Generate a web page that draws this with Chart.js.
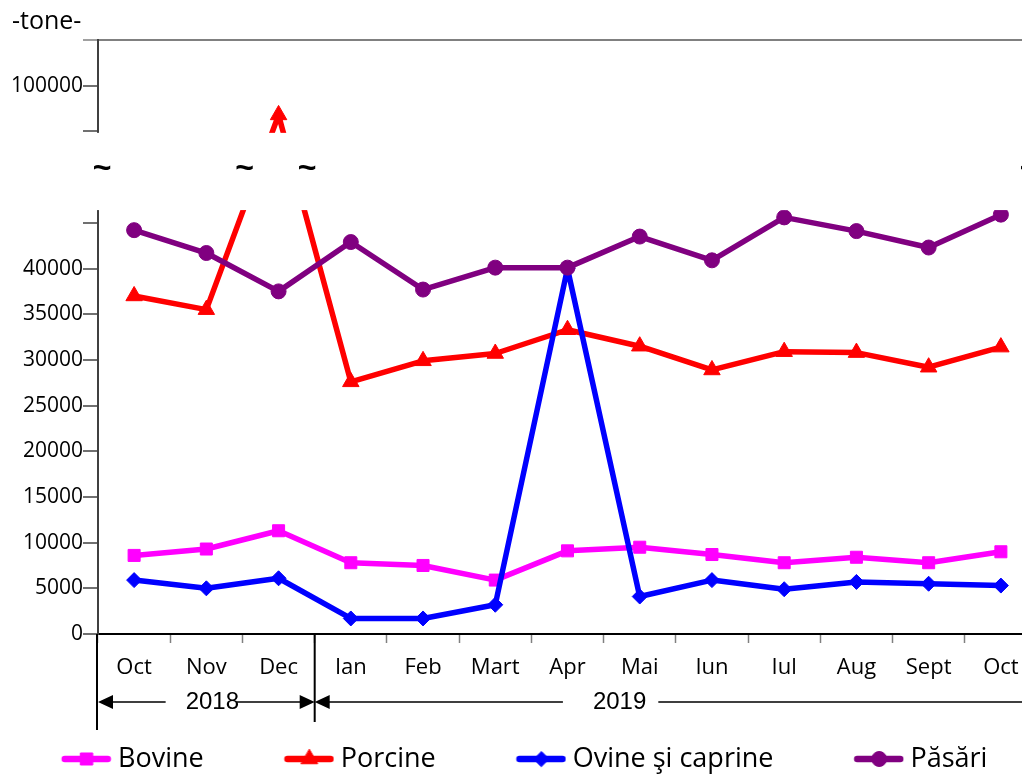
<!DOCTYPE html>
<html><head><meta charset="utf-8">
<script src="https://cdn.jsdelivr.net/npm/chart.js@4.4.1/dist/chart.umd.min.js"></script>
<style>
html,body{margin:0;padding:0;overflow:hidden;background:#fff;width:1022px;height:774px}
#wrap{position:absolute;left:0;top:0;width:1060px;height:774px}
</style>
</head><body>
<div id="wrap"><canvas id="c" width="1060" height="774"></canvas></div>
<script>
// ---- data ----
const MONTHS = ['Oct','Nov','Dec','Ian','Feb','Mart','Apr','Mai','Iun','Iul','Aug','Sept','Oct'];
const YEARS = ['2018','2019'];
const SERIES_NAMES = ['Bovine','Porcine','Ovine şi caprine','Păsări'];
const BOVINE  = [8600, 9300, 11300, 7800, 7500, 5900, 9100, 9500, 8700, 7800, 8400, 7800, 9000];
const PORCINE = [37000, 35500, 96800, 27600, 29900, 30700, 33300, 31500, 28900, 30900, 30800, 29200, 31400];
const OVINE   = [5900, 5000, 6100, 1700, 1700, 3200, 40000, 4100, 5900, 4900, 5700, 5500, 5300];
const PASARI  = [44200, 41700, 37500, 42900, 37700, 40100, 40100, 43500, 40900, 45600, 44100, 42300, 45900];
const Y_TICKS   = [0,5000,10000,15000,20000,25000,30000,35000,40000,45000,95000,100000,105000];
const Y_LABELED = [0,5000,10000,15000,20000,25000,30000,35000,40000,100000];
const UNIT = '-tone-';

// broken axis definition
const LOWER_MAX = 46400, UPPER_MIN = 95000, UPPER_MAX = 105000, GAP_FRACTION = 0.1325;

class BrokenLinearScale extends Chart.LinearScale {
  _fracs() {
    const lo = LOWER_MAX - this.min, up = UPPER_MAX - UPPER_MIN;
    const f1 = (1 - GAP_FRACTION) * lo / (lo + up);
    return [f1, f1 + GAP_FRACTION];
  }
  _toDec(v) {
    const [f1, f2] = this._fracs();
    if (v <= LOWER_MAX) return (v - this.min) / (LOWER_MAX - this.min) * f1;
    if (v <= UPPER_MIN) return f1 + (v - LOWER_MAX) / (UPPER_MIN - LOWER_MAX) * (f2 - f1);
    return f2 + (v - UPPER_MIN) / (UPPER_MAX - UPPER_MIN) * (1 - f2);
  }
  getPixelForValue(value) {
    if (value === null || value === undefined || isNaN(value)) return NaN;
    return this.getPixelForDecimal(this._toDec(+value));
  }
  getValueForPixel(pixel) {
    const d = this.getDecimalForPixel(pixel);
    const [f1, f2] = this._fracs();
    if (d <= f1) return this.min + d / f1 * (LOWER_MAX - this.min);
    if (d <= f2) return LOWER_MAX + (d - f1) / (f2 - f1) * (UPPER_MIN - LOWER_MAX);
    return UPPER_MIN + (d - f2) / (1 - f2) * (UPPER_MAX - UPPER_MIN);
  }
}
BrokenLinearScale.id = 'brokenLinear';
BrokenLinearScale.defaults = Chart.LinearScale.defaults;
Chart.register(BrokenLinearScale);

const COLORS = ['#FF00FF', '#FF0000', '#0000FF', '#800080'];
const STYLES = ['rect', 'triangle', 'rectRot', 'circle'];
const RADII = [8.5, 9.5, 7.5, 7.5];
const VALUES = [BOVINE, PORCINE, OVINE, PASARI];

function legendIcon(i) {
  const c = document.createElement('canvas');
  c.width = 130; c.height = 26;
  const g = c.getContext('2d');
  g.strokeStyle = COLORS[i]; g.lineWidth = 6.5; g.lineCap = 'round';
  g.beginPath(); g.moveTo(83, 13); g.lineTo(126, 13); g.stroke();
  g.fillStyle = COLORS[i]; g.lineWidth = 1;
  Chart.helpers.drawPoint(g, {pointStyle: STYLES[i], radius: RADII[i], borderWidth: 1, rotation: 0}, 105, 13);
  return c;
}
const ICONS = [0,1,2,3].map(legendIcon);

const datasets = SERIES_NAMES.map((name, i) => ({
  label: name,
  data: VALUES[i],
  borderColor: COLORS[i],
  backgroundColor: COLORS[i],
  pointBackgroundColor: COLORS[i],
  pointBorderColor: COLORS[i],
  borderWidth: 5.5,
  borderJoinStyle: 'round',
  pointStyle: STYLES[i],
  pointRadius: RADII[i],
  pointBorderWidth: 1,
  tension: 0,
  order: 3 - i
}));

const legendShift = {
  id: 'legendShift',
  afterLayout(chart) { if (chart.legend) chart.legend.left -= 31; }
};

const breakAndYears = {
  id: 'breakAndYears',
  afterDatasetsDraw(chart) {
    const {ctx, chartArea, scales: {y}} = chart;
    const yTop = y.getPixelForValue(UPPER_MIN);
    const yBot = y.getPixelForValue(LOWER_MAX);
    ctx.save();
    ctx.fillStyle = '#fff';
    ctx.fillRect(chartArea.left - 20, yTop + 1.5, chart.width, yBot - yTop - 1.5);
    ctx.restore();
  },
  afterDraw(chart) {
    const {ctx, chartArea, scales: {x, y}} = chart;
    const yTop = y.getPixelForValue(UPPER_MIN);
    const yBot = y.getPixelForValue(LOWER_MAX);
    const yMid = (yTop + yBot) / 2 - 2;
    // tildes marking the break
    const meta = chart.getDatasetMeta(1).data;
    const cross = (a, b) => a.x + (yMid - a.y) / (b.y - a.y) * (b.x - a.x);
    const tx = [chartArea.left + 4, cross(meta[1], meta[2]) - 14, cross(meta[2], meta[3]) + 14, chartArea.right - 8];
    ctx.save();
    ctx.fillStyle = '#000';
    ctx.font = 'bold 32px "Liberation Sans"';
    ctx.textAlign = 'center'; ctx.textBaseline = 'middle';
    tx.forEach(px => ctx.fillText('~', px, yMid));
    // year brackets
    const bottom = chartArea.bottom;
    const xL = chartArea.left, xR = chartArea.right;
    const xDiv = (x.getPixelForValue(2) + x.getPixelForValue(3)) / 2;
    ctx.strokeStyle = '#000'; ctx.lineWidth = 2;
    ctx.beginPath();
    ctx.moveTo(xL - 1, bottom); ctx.lineTo(xL - 1, bottom + 96);
    ctx.moveTo(xDiv, bottom); ctx.lineTo(xDiv, bottom + 88);
    ctx.stroke();
    const yRow = bottom + 68;
    ctx.font = '24px "Liberation Sans"';
    const bracket = (a, b, label, cx, gl, gr) => {
      const w = ctx.measureText(label).width;
      ctx.fillText(label, cx, yRow);
      ctx.lineWidth = 1.5;
      ctx.beginPath();
      ctx.moveTo(a + 14, yRow); ctx.lineTo(cx - w / 2 - gl, yRow);
      ctx.moveTo(cx + w / 2 + gr, yRow); ctx.lineTo(b - 14, yRow);
      ctx.stroke();
      ctx.beginPath();
      ctx.moveTo(a, yRow); ctx.lineTo(a + 15, yRow - 7); ctx.lineTo(a + 15, yRow + 7); ctx.closePath();
      ctx.moveTo(b, yRow); ctx.lineTo(b - 15, yRow - 7); ctx.lineTo(b - 15, yRow + 7); ctx.closePath();
      ctx.fill();
    };
    bracket(xL, xDiv, YEARS[0], x.getPixelForValue(1) + 6, 20, -2);
    bracket(xDiv, xR, YEARS[1], (x.getPixelForValue(6) + x.getPixelForValue(7)) / 2 + 16, 30, 12);
    ctx.restore();
  }
};

new Chart(document.getElementById('c'), {
  type: 'line',
  data: {labels: MONTHS, datasets},
  options: {
    responsive: false,
    animation: false,
    devicePixelRatio: 1,
    layout: {padding: {left: 12, right: 23, top: 0, bottom: 0}},
    plugins: {
      tooltip: {enabled: false},
      title: {
        display: true, text: UNIT, align: 'start', color: '#000',
        font: {family: 'Open Sans', size: 25, weight: 'normal'},
        padding: {top: 7, bottom: 3}
      },
      legend: {
        display: true, position: 'bottom', align: 'start', maxHeight: 36.5,
        labels: {
          usePointStyle: true, pointStyleWidth: 115.5, padding: 8, color: '#000',
          font: {family: 'Open Sans', size: 27},
          generateLabels: (chart) => chart.data.datasets.map((ds, i) => ({
            text: ds.label, pointStyle: ICONS[i], fillStyle: COLORS[i], strokeStyle: COLORS[i],
            lineWidth: 0, hidden: !chart.isDatasetVisible(i), datasetIndex: i, fontColor: '#000'
          }))
        }
      }
    },
    scales: {
      x: {
        type: 'category', offset: true,
        afterFit: s => { s.height = 103.5; },
        grid: {display: true, offset: true, drawOnChartArea: false, drawTicks: true, tickLength: 9, tickColor: '#808080', tickWidth: 1.5},
        border: {display: true, color: '#000', width: 2},
        ticks: {color: '#000', font: {family: 'Open Sans', size: 22}, padding: 12, maxRotation: 0, autoSkip: false}
      },
      y: {
        type: 'brokenLinear', min: 0, max: UPPER_MAX,
        afterBuildTicks: s => { s.ticks = Y_TICKS.map(v => ({value: v})); },
        afterFit: s => { s.width = 86; },
        ticks: {
          autoSkip: false, padding: 0, color: '#000',
          font: {family: 'Open Sans', size: 21},
          callback: v => Y_LABELED.includes(v) ? String(v) : ''
        },
        grid: {
          display: true, drawOnChartArea: true, drawTicks: true, tickLength: 15,
          color: c => (c.tick && c.tick.value === UPPER_MAX) ? '#808080' : 'rgba(0,0,0,0)',
          tickColor: c => (c.tick && c.tick.value === UPPER_MAX) ? '#808080' : '#404040',
          lineWidth: 2, tickWidth: 1.5
        },
        border: {display: true, color: '#404040', width: 2}
      }
    }
  },
  plugins: [legendShift, breakAndYears]
});
</script>
</body></html>
